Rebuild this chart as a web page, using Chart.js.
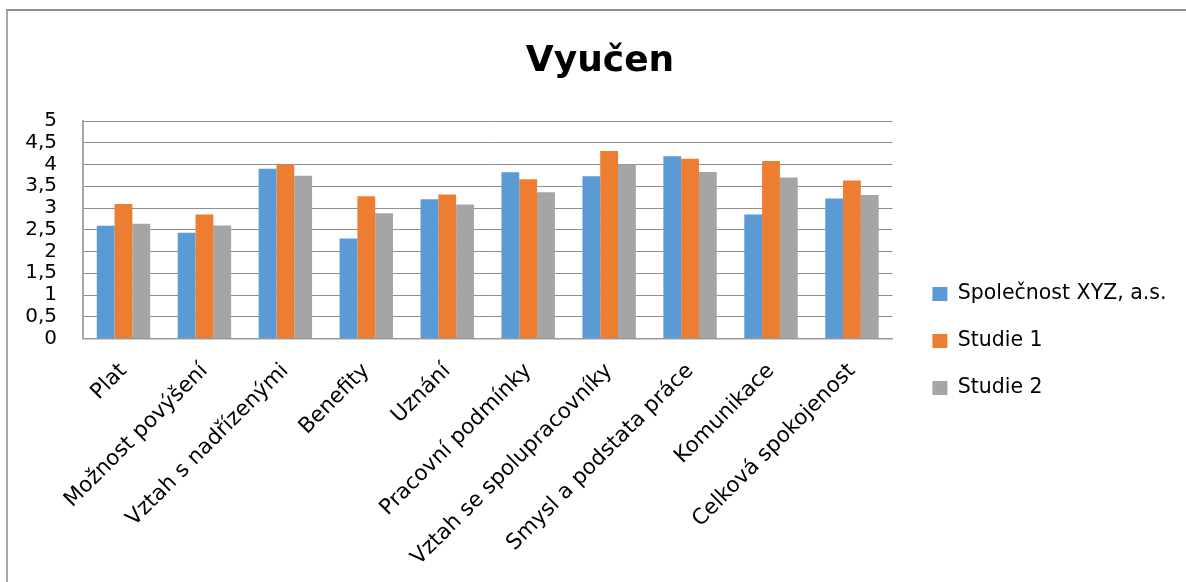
<!DOCTYPE html>
<html lang="cs">
<head>
<meta charset="utf-8">
<title>Vyučen</title>
<script src="https://cdn.jsdelivr.net/npm/chart.js@4.4.1/dist/chart.umd.min.js"></script>
<style>
    html, body { margin: 0; padding: 0; background: #fff; overflow: hidden; }
    body { width: 1186px; height: 582px; position: relative; }
    /* rámeček grafu (vidět jen levá a horní hrana) */
    .ramecek {
        position: absolute;
        left: 6px;
        top: 9px;
        width: 1200px;
        height: 600px;
        border-left: 2px solid #a6a6a6;
        border-top: 2px solid #8f8f8f;
    }
    canvas { display: block; }
</style>
</head>
<body>
<div class="ramecek">
    <canvas id="graf" width="1178" height="571"></canvas>
</div>
<script>
// kategorie (osa X)
const kategorie = [
    'Plat',
    'Možnost povýšení',
    'Vztah s nadřízenými',
    'Benefity',
    'Uznání',
    'Pracovní podmínky',
    'Vztah se spolupracovníky',
    'Smysl a podstata práce',
    'Komunikace',
    'Celková spokojenost'
];

// průměrné hodnocení jednotlivých oblastí
const spolecnostXYZ = [2.59, 2.43, 3.90, 2.30, 3.20, 3.82, 3.73, 4.19, 2.85, 3.22];
const studie1 = [3.09, 2.85, 4.00, 3.27, 3.31, 3.66, 4.31, 4.13, 4.08, 3.63];
const studie2 = [2.64, 2.60, 3.74, 2.88, 3.08, 3.36, 4.00, 3.83, 3.70, 3.30];

// rozsah a krok osy Y (popisky s desetinnou čárkou)
const osaY = { min: 0, max: 5, krok: 0.5 };

const pismo = '"DejaVu Sans", sans-serif';

// nadpis přes celou šířku, legenda víc vpravo a níž (jako v Excelu)
const rozlozeni = {
    id: 'rozlozeni',
    afterLayout(chart) {
        const t = chart.titleBlock;
        t.left = 0;
        t.right = 1184;
        t.width = 1184;

        const lg = chart.legend;
        const dx = 13.5, dy = 44.5;
        lg.left += dx; lg.right += dx;
        lg.top += dy; lg.bottom += dy;
    }
};

const ctx = document.getElementById('graf').getContext('2d');

new Chart(ctx, {
    type: 'bar',
    data: {
        labels: kategorie,
        datasets: [
            { label: 'Společnost XYZ, a.s.', data: spolecnostXYZ, backgroundColor: '#5B9BD5' },
            { label: 'Studie 1', data: studie1, backgroundColor: '#ED7D31' },
            { label: 'Studie 2', data: studie2, backgroundColor: '#A5A5A5' }
        ]
    },
    options: {
        responsive: false,
        animation: false,
        layout: { padding: { left: 0, right: 23, top: 0, bottom: 0 } },
        datasets: {
            bar: { barPercentage: 1.0, categoryPercentage: 0.66, borderWidth: 0 }
        },
        scales: {
            x: {
                grid: { display: false, drawTicks: false },
                border: { display: true, color: '#9a9a9a', width: 1.5 },
                ticks: {
                    autoSkip: false,
                    maxRotation: 45,
                    minRotation: 45,
                    padding: 20,
                    color: '#000',
                    font: { family: pismo, size: 21.5 }
                },
                afterFit(scale) { scale.height = 243.5; }
            },
            y: {
                min: osaY.min,
                max: osaY.max,
                grid: { color: '#8f8f8f', lineWidth: 1, drawTicks: false },
                border: { display: true, color: '#a8a8a8', width: 2 },
                ticks: {
                    autoSkip: false,
                    stepSize: osaY.krok,
                    padding: 26,
                    color: '#000',
                    font: { family: pismo, size: 20 },
                    callback: v => String(v).replace('.', ',')
                },
                afterFit(scale) { scale.width = 75; }
            }
        },
        plugins: {
            title: {
                display: true,
                text: 'Vyučen',
                color: '#000',
                font: { family: pismo, size: 36, weight: 'bold', lineHeight: 1.2 },
                padding: { top: 29, bottom: 37.8 }
            },
            legend: {
                display: true,
                position: 'right',
                align: 'center',
                labels: {
                    boxWidth: 15,
                    boxHeight: 14,
                    padding: 26.5,
                    color: '#000',
                    font: { family: pismo, size: 20.5 }
                }
            },
            tooltip: { enabled: false }
        }
    },
    plugins: [rozlozeni]
});
</script>
</body>
</html>
